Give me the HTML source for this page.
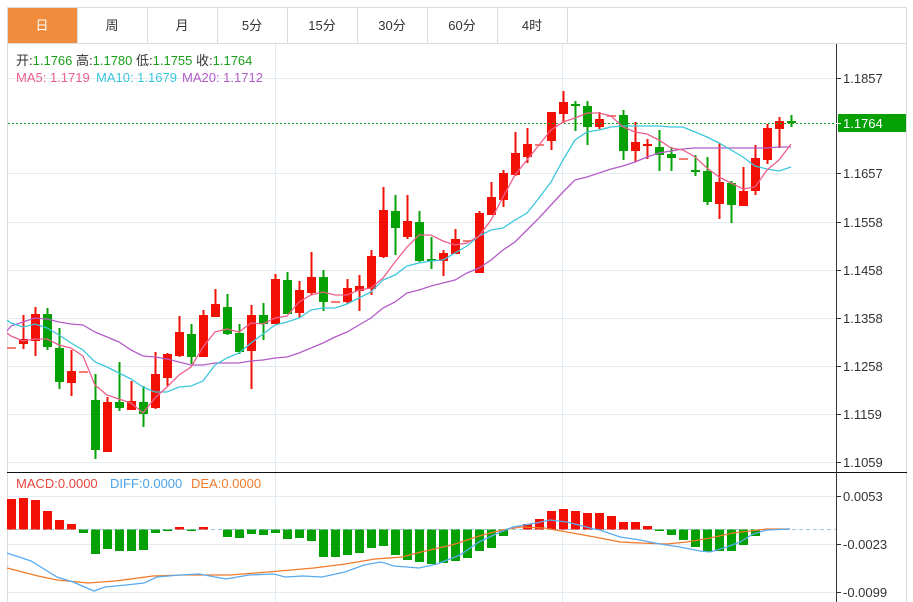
<!DOCTYPE html>
<html><head><meta charset="utf-8"><style>
body{margin:0;background:#fff;width:913px;height:602px;overflow:hidden;font-family:"Liberation Sans","Noto Sans CJK SC",sans-serif}
svg{position:absolute;left:0;top:0}
</style></head><body>
<svg id="s" width="913" height="602" xmlns="http://www.w3.org/2000/svg" font-family="Liberation Sans, Noto Sans CJK SC, sans-serif">
<rect x="7.5" y="7.5" width="899" height="600" fill="none" stroke="#dcdcdc"/>
<line x1="7" y1="43.5" x2="907" y2="43.5" stroke="#dcdcdc"/>
<rect x="8" y="8" width="69" height="35" fill="#f08c3c"/>
<g stroke="#dcdcdc"><line x1="77.5" y1="8" x2="77.5" y2="43"/><line x1="147.5" y1="8" x2="147.5" y2="43"/><line x1="217.5" y1="8" x2="217.5" y2="43"/><line x1="287.5" y1="8" x2="287.5" y2="43"/><line x1="357.5" y1="8" x2="357.5" y2="43"/><line x1="427.5" y1="8" x2="427.5" y2="43"/><line x1="497.5" y1="8" x2="497.5" y2="43"/><line x1="567.5" y1="8" x2="567.5" y2="43"/></g>
<g font-size="13" text-anchor="middle" fill="#333"><text x="42" y="30" fill="#fff">日</text><text x="112" y="30">周</text><text x="182" y="30">月</text><text x="252" y="30">5分</text><text x="322" y="30">15分</text><text x="392" y="30">30分</text><text x="462" y="30">60分</text><text x="532" y="30">4时</text></g>
<g id="grid" stroke="#e3ebf2"></g>
<g font-size="13"><text x="16" y="65" fill="#333">开:<tspan fill="#1a9e1a">1.1766</tspan>  高:<tspan fill="#1a9e1a">1.1780</tspan>  低:<tspan fill="#1a9e1a">1.1755</tspan>  收:<tspan fill="#1a9e1a">1.1764</tspan></text>
<text x="16" y="82" fill="#ec5f8c">MA5: 1.1719</text><text x="96" y="82" fill="#3cc6dd">MA10: 1.1679</text><text x="182" y="82" fill="#b45cc8">MA20: 1.1712</text>
<text x="16" y="488" fill="#e8453c">MACD:0.0000</text><text x="110" y="488" fill="#4aa3e8">DIFF:0.0000</text><text x="191" y="488" fill="#f07a2a">DEA:0.0000</text></g>
<g id="c"></g>
<line x1="7" y1="472.5" x2="907" y2="472.5" stroke="#111"/>
<line x1="836.5" y1="44" x2="836.5" y2="602" stroke="#333"/>
<g id="ax" font-size="13" fill="#333"></g>
<rect x="838" y="114" width="68" height="18" fill="#04a004"/>
<line x1="836" y1="123.5" x2="841" y2="123.5" stroke="#fff"/>
<text x="843" y="128" font-size="13" fill="#fff">1.1764</text>
</svg>
<script>
var NS="http://www.w3.org/2000/svg",g=document.getElementById('grid'),c=document.getElementById('c'),ax=document.getElementById('ax');
function el(p,t,a){var e=document.createElementNS(NS,t);for(var k in a)e.setAttribute(k,a[k]);p.appendChild(e);return e;}
var lv=[[78,'1.1857'],[173,'1.1657'],[222,'1.1558'],[270,'1.1458'],[318,'1.1358'],[366,'1.1258'],[414,'1.1159'],[462,'1.1059'],[496,'0.0053'],[544,'-0.0023'],[592,'-0.0099']];
lv.forEach(function(l){el(g,'line',{x1:8,x2:836,y1:l[0]+.5,y2:l[0]+.5});el(ax,'line',{x1:836,x2:841,y1:l[0]+.5,y2:l[0]+.5,stroke:'#333'});var t=el(ax,'text',{x:843,y:l[0]+5});t.textContent=l[1];});
[275.5,562.5].forEach(function(x){el(g,'line',{x1:x,x2:x,y1:44,y2:602});});
var R='#f21005',G='#04a004';
var K=[['p',348,348,348,348],[R,339,344,315,349],[R,314,341,307,356],[G,314,347,308,350],[G,348,382,328,389],[R,371,383,350,396],['p',372,372,372,372],[G,400,450,374,459],[R,402,452,397,452],[G,402,408,362,411],[R,401,410,381,410],[G,402,414,386,427],[R,374,408,352,409],[R,354,378,353,386],[R,332,356,316,357],[G,334,357,324,364],[R,315,357,310,357],[R,304,317,289,317],[G,307,334,294,335],[G,333,352,324,354],[R,315,351,305,389],[G,315,324,303,340],[R,279,324,274,324],[G,280,314,272,314],[R,290,313,281,318],[R,277,293,252,295],[G,277,302,270,311],['p',302,302,302,302],[R,288,302,279,304],[R,286,291,275,311],[R,256,289,250,295],[R,210,257,187,258],[G,211,228,195,255],[R,221,237,195,239],[G,222,261,211,262],[G,259,261,237,269],[R,253,261,250,276],[R,239,254,229,254],['p',241,241,241,241],[R,213,273,211,273],[R,197,215,182,215],[R,173,200,170,207],[R,153,175,132,176],[R,144,157,128,163],['p',145,145,145,145],[R,112,141,112,150],[R,102,114,91,123],[G,105,106,101,131],[G,106,127,101,145],[R,119,127,112,129],['p',116,116,116,116],[G,115,151,110,160],[R,142,151,122,162],[R,145,145,139,159],[G,147,155,130,171],[G,154,158,147,171],['p',159,159,159,159],[G,171,171,155,176],[G,171,202,157,205],[R,182,204,143,219],[G,183,205,181,223],[R,191,206,167,206],[R,158,191,145,195],[R,128,160,124,164],[R,121,129,117,148],[G,122,123,115,127]];
K.forEach(function(k,i){var x=11+12*i,col=k[0]=='p'?'#f47a72':k[0];
 if(k[3]<k[4])el(c,'line',{x1:x+.5,x2:x+.5,y1:k[3],y2:k[4],stroke:col,'stroke-width':2});
 var h=Math.max(k[2]-k[1],2);el(c,'rect',{x:Math.max(x-4,7),y:k[1]-(k[2]-k[1]<2?1:0),width:x-4<7?x+5-7:9,height:h,fill:col});});
el(c,'line',{x1:8,x2:836,y1:123.5,y2:123.5,stroke:'#1a9e1a','stroke-dasharray':'2,2'});
function pl(pts,col){el(c,'polyline',{points:pts.map(function(p){return p.join(',')}).join(' '),fill:'none',stroke:col,'stroke-width':1.3});}
var xs=[7];for(var i=0;i<66;i++)xs.push(11+12*i);
var ma5=[333,336,341,339,339,345,348,356,385,395,399,403,413,398,387,375,367,347,332,329,332,323,324,318,316,302,295,292,295,295,290,288,278,262,247,235,235,241,245,243,236,220,197,175,160,145,130,122,118,113,113,116,127,132,134,140,148,150,157,168,177,183,189,187,170,160,144];
var ma10=[320,323,327,324,328,335,343,350,362,367,373,379,387,392,392,387,386,381,365,358,353,343,334,325,322,318,310,308,308,304,298,292,280,275,266,263,261,260,253,246,236,230,228,220,213,198,182,160,140,132,130,127,126,126,126,126,127,127,132,137,143,150,157,166,169,171,167];
var ma20=[331,326,322,318,319,322,324,325,332,337,342,350,356,357,359,362,365,365,363,363,363,361,360,358,357,353,348,343,337,332,325,318,308,302,293,290,286,283,280,273,268,260,250,242,230,218,205,192,180,177,173,169,166,162,157,153,151,149,148,148,148,148,148,148,148,147,147];
pl(ma20.map(function(y,i){return[xs[i],y]}),'#b45cc8');
pl(ma10.map(function(y,i){return[xs[i],y]}),'#3cc6dd');
pl(ma5.map(function(y,i){return[xs[i],y]}),'#ec5f8c');
el(c,'line',{x1:8,x2:836,y1:529.5,y2:529.5,stroke:'#9cc8e8','stroke-dasharray':'4,3'});
var H=[499,498,500,511,520,524,533,554,549,551,551,550,533,531,527,531,527,530,537,538,534,535,533,539,538,541,557,557,555,553,548,546,555,560,562,564,563,561,558,551,548,536,530,524,519,511,509,511,513,513,516,522,522,526,531,535,540,547,552,551,551,545,536,530,529.5,529.5];
var Z=529.5;H.forEach(function(y,i){var x=11+12*i;if(Math.abs(y-Z)<0.6)return;var col=y<Z?R:G;var x0=Math.max(x-4,7);el(c,'rect',{x:x0,y:Math.min(y,Z),width:x+5-x0,height:Math.max(Math.abs(y-Z),1),fill:col});});
pl([[7,568],[38,576],[57,580],[88,583],[115,581],[153,576],[184,575],[230,575],[268,572],[314,568],[345,564],[375,559],[402,557],[421,552],[452,545],[479,536],[502,530],[521,527],[544,528],[567,532],[600,538],[620,542],[640,543],[667,544],[687,542],[710,538],[733,533],[750,531],[767,529],[790,529]],'#f07a2a');
pl([[7,553],[31,561],[57,577],[73,582],[94,591],[105,587],[126,585],[144,583],[157,577],[180,575],[199,574],[226,579],[249,575],[274,574],[285,577],[303,576],[322,577],[345,572],[364,565],[381,562],[394,566],[419,568],[437,564],[460,555],[479,542],[498,533],[513,527],[536,523],[550,520],[567,522],[594,529],[600,530],[620,537],[640,540],[660,544],[680,547],[700,551],[710,552],[727,547],[740,542],[753,534],[767,530],[790,529]],'#5aaaf0');
</script>
</body></html>
